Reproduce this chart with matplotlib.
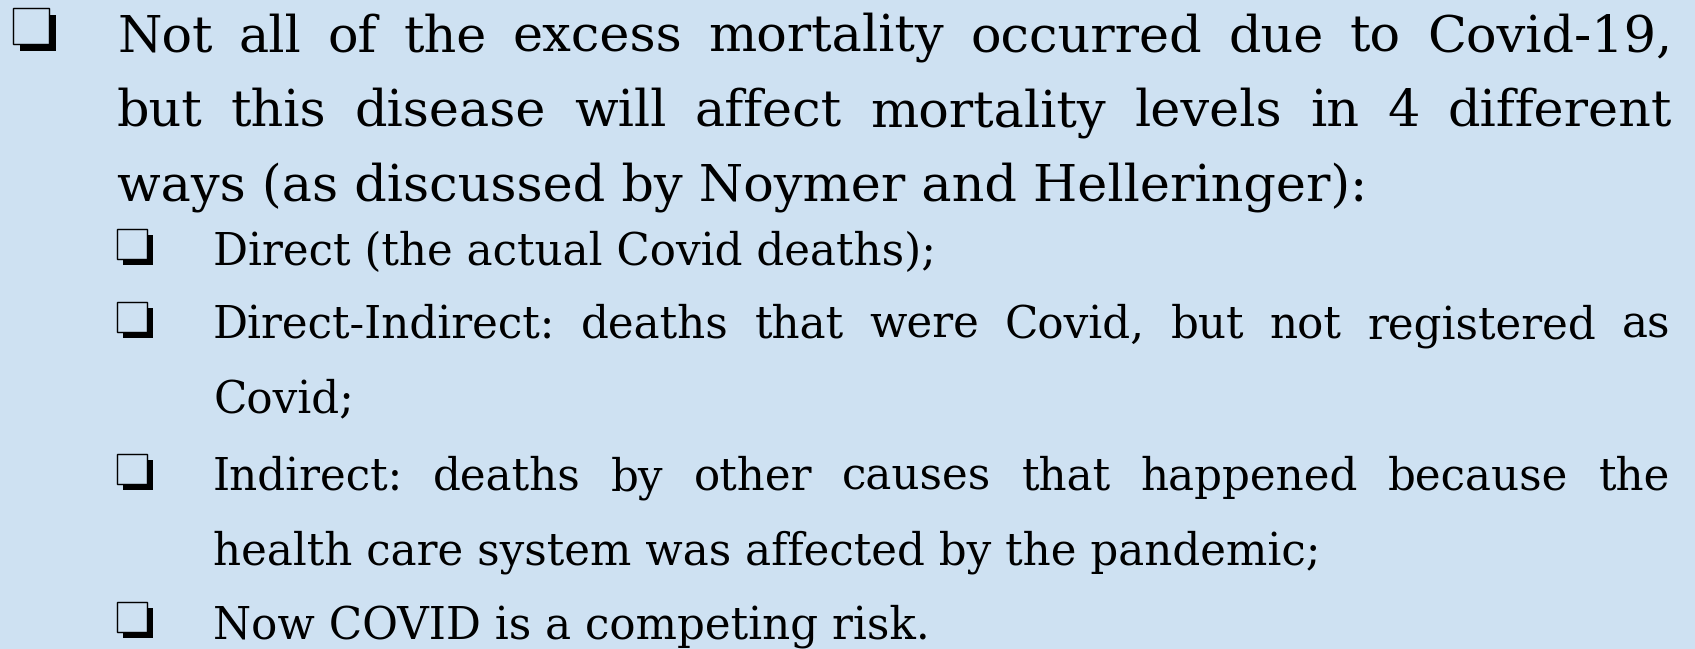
import matplotlib
matplotlib.use("Agg")
import matplotlib.pyplot as plt
from matplotlib.patches import Rectangle

# slide text: (line, justified?)
main_lines = [
    ("Not all of the excess mortality occurred due to Covid-19,", True),
    ("but this disease will affect mortality levels in 4 different", True),
    ("ways (as discussed by Noymer and Helleringer):", False),
]
sub_items = [
    [("Direct (the actual Covid deaths);", False)],
    [("Direct-Indirect: deaths that were Covid, but not registered as", True),
     ("Covid;", False)],
    [("Indirect: deaths by other causes that happened because the", True),
     ("health care system was affected by the pandemic;", False)],
    [("Now COVID is a competing risk.", False)],
]

BG = "#cee1f2"
FONT = "DejaVu Serif"

W, H = 1695, 649
fig = plt.figure(figsize=(W / 100, H / 100), dpi=100)
fig.patch.set_facecolor(BG)
ax = fig.add_axes([0, 0, 1, 1])
ax.set_xlim(0, W)
ax.set_ylim(H, 0)
ax.axis("off")
renderer = fig.canvas.get_renderer()


def text_width(s, size):
    t = ax.text(0, 0, s, fontsize=size, family=FONT)
    w = t.get_window_extent(renderer).width
    t.remove()
    return w


def fit_size(s, target):
    return 30 * target / text_width(s, 30)


def draw_line(s, x, y, size, justify, right):
    if not justify:
        ax.text(x, y, s, fontsize=size, family=FONT, va="baseline", ha="left")
        return
    words = s.split()
    widths = [text_width(w, size) for w in words]
    gap = (right - x - sum(widths)) / (len(words) - 1)
    for w, ww in zip(words, widths):
        ax.text(x, y, w, fontsize=size, family=FONT, va="baseline", ha="left")
        x += ww + gap


def bullet(x, bottom, box, off):
    top = bottom - box - off
    ax.add_patch(Rectangle((x + off, top + off), box, box, fc="black", ec="none"))
    ax.add_patch(Rectangle((x, top), box, box, fc=BG, ec="black", lw=1.0))


main_size = fit_size(main_lines[2][0], 1251)
sub_size = (fit_size(sub_items[0][0][0], 724) + fit_size(sub_items[2][1][0], 1117)
            + fit_size(sub_items[3][0][0], 710)) / 3

# main bullet and paragraph
main_base = [51, 126, 200]
bullet(13, 51, 36, 7)
for (s, j), y in zip(main_lines, main_base):
    draw_line(s, 117, y, main_size, j, 1672)

# sub bullets
sub_base = [265, 338, 412, 490, 565, 638]
k = 0
for item in sub_items:
    bullet(117, sub_base[k], 30, 6)
    for s, j in item:
        draw_line(s, 213, sub_base[k], sub_size, j, 1670)
        k += 1

fig.savefig("out.png", dpi=100, facecolor=BG)
